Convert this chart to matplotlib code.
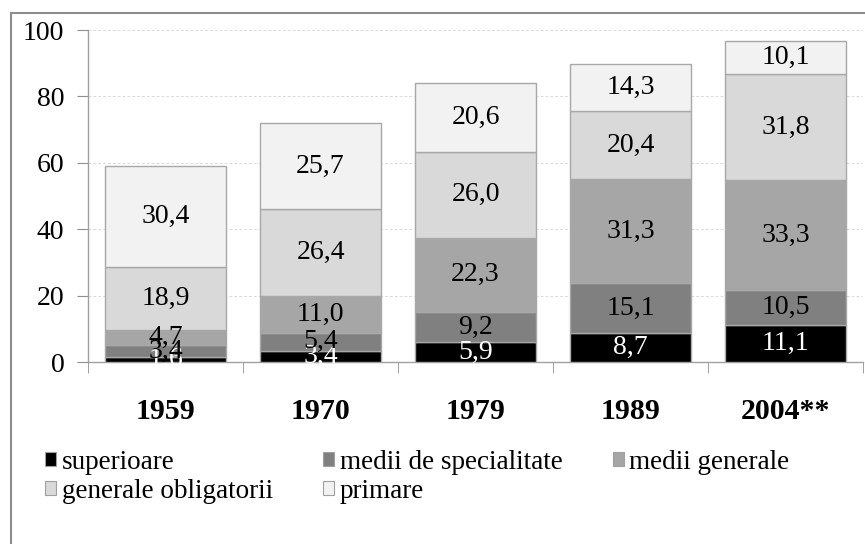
import matplotlib.pyplot as plt
from matplotlib.patches import Patch, Rectangle
import numpy as np

plt.rcParams['font.family'] = ['Liberation Serif', 'DejaVu Serif']

years = ["1959", "1970", "1979", "1989", "2004**"]
series_names = ["superioare", "medii de specialitate", "medii generale",
                "generale obligatorii", "primare"]
superioare = [1.6, 3.4, 5.9, 8.7, 11.1]
medii_spec = [3.4, 5.4, 9.2, 15.1, 10.5]
medii_gen = [4.7, 11.0, 22.3, 31.3, 33.3]
gen_oblig = [18.9, 26.4, 26.0, 20.4, 31.8]
primare = [30.4, 25.7, 20.6, 14.3, 10.1]
yticks = [0, 20, 40, 60, 80, 100]

series = [superioare, medii_spec, medii_gen, gen_oblig, primare]
colors = ["#000000", "#808080", "#a6a6a6", "#d9d9d9", "#f2f2f2"]
text_colors = ["white", "black", "black", "black", "black"]

fig = plt.figure(figsize=(8.65, 5.44), dpi=100)
W, H = 865, 544
ax = fig.add_axes([88 / W, (H - 362) / H, 775 / W, 332 / H])

x = np.arange(len(years))
bottom = np.zeros(len(years))
for vals, col, tc in zip(series, colors, text_colors):
    vals = np.array(vals)
    ax.bar(x, vals, 0.775, bottom=bottom, color=col, edgecolor="#a8a8a8",
           linewidth=1, zorder=3)
    for xi, b, v in zip(x, bottom, vals):
        ax.text(xi, b + v / 2, ("%.1f" % v).replace(".", ","), ha="center",
                va="center", fontsize=20, color=tc, zorder=4)
    bottom += vals

ax.set_xlim(-0.5, len(years) - 0.5)
ax.set_ylim(0, 100)
ax.set_yticks(yticks)
ax.set_yticklabels([str(t) for t in yticks], fontsize=20)
ax.set_xticks(x)
ax.set_xticklabels(years, fontsize=21.5, fontweight="bold")
ax.set_xticks(np.arange(-0.5, len(years)), minor=True)
ax.tick_params(axis="x", which="major", length=0, pad=26)
ax.tick_params(axis="x", which="minor", length=8, color="#909090", direction="out")
ax.tick_params(axis="y", length=8, color="#909090", direction="out", pad=9)
ax.yaxis.grid(True, linestyle=(0, (3, 2)), color="#dadada", linewidth=0.7, zorder=0)
ax.set_axisbelow(True)
for s in ["top", "right"]:
    ax.spines[s].set_visible(False)
for s in ["left", "bottom"]:
    ax.spines[s].set_color("#a0a0a0")
    ax.spines[s].set_linewidth(1)

# outer chart frame (runs off the right/bottom of the image)
fig.patches.append(Rectangle((11 / W, -0.05), 1.0, (H - 13) / H + 0.05,
                             transform=fig.transFigure, fill=False,
                             edgecolor="#8c8c8c", linewidth=1.5))

# legend fills column by column, so reorder to read row by row
order = [0, 3, 1, 4, 2]
handles = [Patch(facecolor=colors[i], edgecolor="#a0a0a0", linewidth=0.8) for i in order]
labels = [series_names[i] for i in order]
fig.legend(handles, labels, loc="upper left", bbox_to_anchor=(45 / W, 1 - 450 / H),
           ncol=3, frameon=False, fontsize=19.5, handlelength=0.42, handleheight=0.42,
           handletextpad=0.2, columnspacing=1.85, labelspacing=0.15, borderpad=0,
           borderaxespad=0)

fig.savefig("out.png", dpi=100)
